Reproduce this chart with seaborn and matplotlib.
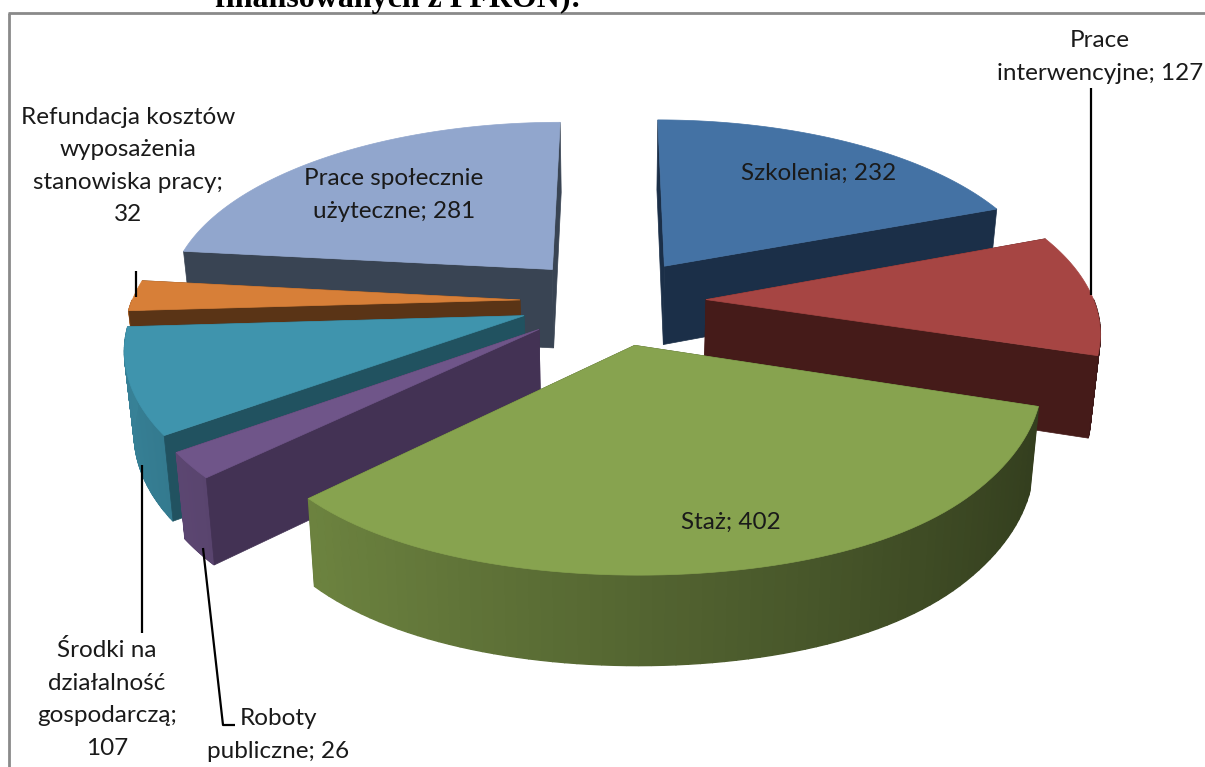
import numpy as np
import seaborn as sns
import matplotlib.pyplot as plt

# Dane
names = [
    "Szkolenia",
    "Prace interwencyjne",
    "Staż",
    "Roboty publiczne",
    "Środki na działalność gospodarczą",
    "Refundacja kosztów wyposażenia stanowiska pracy",
    "Prace społecznie użyteczne",
]
values = [232, 127, 402, 26, 107, 32, 281]
top_colors = ["#4472A4", "#A64543", "#87A34F", "#6F5589", "#3F94AD", "#D77F38", "#91A6CD"]
wall_colors = ["#1B2F48", "#451B19", "#3A4720", "#433254", "#215260", "#5A3416", "#394453"]

# Kolejność rysowania: od tyłu do przodu
draw_order = [6, 0, 5, 1, 4, 3, 2]

sns.set_theme(style="white")
plt.rcParams["font.family"] = ["Lato", "DejaVu Sans"]

# Parametry rzutu perspektywicznego kołowego 3D
CX, CY = 613, 301
RX, RY = 388, 182
PX, PY = 0.15, 0.17
SHRINK = 0.98
EXPLODE = 0.24


def project(u, v, bottom=False):
    x = RX * u / (1 + PX * v)
    y = CY - RY * v / (1 + PY * v)
    # Spłaszczenie przedniej krawędzi
    y = y - 90 * np.maximum(0, -v - 0.9) ** 2
    if bottom:
        x = x * SHRINK
        y = y + 80 - 8.5 * v
    return CX + x, y


def shade(color, factor):
    rgb = np.array(plt.matplotlib.colors.to_rgb(color))
    return tuple(np.clip(rgb * factor, 0, 1))


fig = plt.figure(figsize=(12.05, 7.67), dpi=100)
ax = fig.add_axes([0, 0, 1, 1])
ax.set_xlim(0, 1205)
ax.set_ylim(767, 0)
ax.axis("off")

# Kąty wycinków liczone od godziny 12, zgodnie z ruchem wskazówek
edges = np.cumsum([0] + values) / sum(values) * 2 * np.pi


def radial_wall(i, au, av, ue, ve):
    x0, y0 = project(np.array([au, ue]), np.array([av, ve]))
    x1, y1 = project(np.array([ue, au]), np.array([ve, av]), bottom=True)
    ax.fill(np.r_[x0, x1], np.r_[y0, y1], color=wall_colors[i], lw=0.5)


for i in draw_order:
    th = np.linspace(edges[i], edges[i + 1], 80)
    mid = (edges[i] + edges[i + 1]) / 2
    au, av = EXPLODE * np.sin(mid), EXPLODE * np.cos(mid)
    u = au + np.sin(th)
    v = av + np.cos(th)

    # Ściany promieniowe: tylna przed zewnętrzną, przednia po niej
    start_front = np.sin(th[0]) < 0
    end_front = np.sin(th[-1]) > 0
    if not start_front:
        radial_wall(i, au, av, u[0], v[0])
    if not end_front:
        radial_wall(i, au, av, u[-1], v[-1])

    # Ściana zewnętrzna z gradientem, tylko część widoczna
    xt, yt = project(u, v)
    xb, yb = project(u, v, bottom=True)
    for k in range(len(th) - 1):
        if np.cos(th[k]) > 0 and np.cos(th[k + 1]) > 0:
            continue
        f = 0.62 - 0.25 * np.sin((th[k] + th[k + 1]) / 2)
        ax.fill(
            [xt[k], xt[k + 1], xb[k + 1], xb[k]],
            [yt[k], yt[k + 1], yb[k + 1], yb[k]],
            color=shade(top_colors[i], f),
            lw=1.0,
        )

    if start_front:
        radial_wall(i, au, av, u[0], v[0])
    if end_front:
        radial_wall(i, au, av, u[-1], v[-1])

    # Górna powierzchnia
    ax.fill(
        np.r_[project(au, av)[0], xt],
        np.r_[project(au, av)[1], yt],
        color=top_colors[i],
        lw=0.5,
    )

# Ramka wykresu
ax.plot([8, 1205], [13, 13], color="#8A8A8A", lw=2, solid_capstyle="butt")
ax.plot([9, 9], [13, 767], color="#8A8A8A", lw=2, solid_capstyle="butt")

# Tytuł ucięty górną krawędzią
ax.text(215, 7, "finansowanych z PFRON):", family="Liberation Serif", weight="bold",
        fontsize=23, color="black", ha="left", va="baseline")

# Linie odniesienia
leaders = [
    ([1091, 1091], [88, 295]),
    ([136, 136], [271, 297]),
    ([142, 142], [465, 633]),
    ([203, 223, 235], [548, 725, 725]),
]
for lx, ly in leaders:
    ax.plot(lx, ly, color="black", lw=1.6, solid_capstyle="butt")

# Etykiety
labels = [
    (819, 173, "Szkolenia; 232"),
    (731, 522, "Staż; 402"),
    (394, 195, "Prace społecznie\nużyteczne; 281"),
    (1100, 57, "Prace\ninterwencyjne; 127"),
    (128, 166, "Refundacja kosztów\nwyposażenia\nstanowiska pracy;\n32"),
    (107, 699, "Środki na\ndziałalność\ngospodarczą;\n107"),
    (278, 735, "Roboty\npubliczne; 26"),
]
for lx, ly, txt in labels:
    ax.text(lx, ly, txt, ha="center", va="center", fontsize=17.5, color="#1a1a1a",
            linespacing=1.68)

fig.savefig("out.png", dpi=100)
